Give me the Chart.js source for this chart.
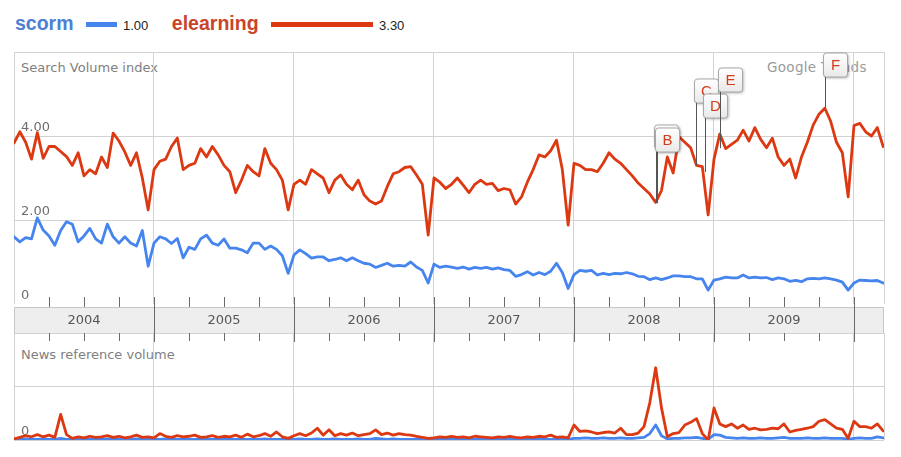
<!DOCTYPE html>
<html>
<head>
<meta charset="utf-8">
<script src="https://cdn.jsdelivr.net/npm/chart.js@4.4.1/dist/chart.umd.min.js"></script>
<style>
  html, body { margin: 0; padding: 0; background: #fff; }
  #page { position: relative; width: 901px; height: 457px; overflow: hidden; font-family: "Liberation Sans", Arial, sans-serif; }
  canvas { position: absolute; left: 0; top: 0; }
  .lbl { position: absolute; white-space: nowrap; }
  .gray { font: 13px "DejaVu Sans", sans-serif; line-height: 13px; color: #808080; }
  #legend { position: absolute; left: 15px; top: 14px; display: flex; align-items: center; height: 20px; }
  #legend .term { font-weight: bold; font-size: 19.5px; line-height: 19.5px; }
  #legend .swatch { height: 5px; margin: 0 6px 0 12.5px; }
  #legend .avg { font-size: 13px; line-height: 13px; color: #222; position: relative; top: 1px; margin-right: 23.5px; }
</style>
</head>
<body>
<div id="page">
  <div id="legend"></div>
  <div class="lbl gray" style="left:21px; top:61px">Search Volume index</div>
  <div class="lbl gray" style="left:21px; top:348px">News reference volume</div>
  <div class="lbl gray" style="left:767px; top:61px; font-size:13.5px; letter-spacing:0.3px; color:#9a9a9a">Google Trends</div>
  <canvas id="searchChart" width="901" height="457"></canvas>
  <canvas id="newsChart" width="901" height="457"></canvas>
</div>
<script>
// search terms and their averages shown in the legend
const terms = ['scorm', 'elearning'];
const termAverages = [1.00, 3.30];
const lineColors = ['#4684ee', '#dc3912'];
const textColors = ['#4d80d4', '#c9442a'];

// x axis: half-month samples starting Jan 2004
const startYear = 2004;
const samplesPerYear = 24;
const years = ['2004', '2005', '2006', '2007', '2008', '2009'];
const yearBoundaries = [2004, 2005, 2006, 2007, 2008, 2009, 2010];
const searchTicks = [0, 2, 4, 6];
const newsTicks = [0, 1, 2];

// Search Volume index
const scormSearch = [
  1.60, 1.48, 1.58, 1.55, 2.05, 1.76, 1.62, 1.40, 1.75, 1.96,
  1.90, 1.48, 1.62, 1.80, 1.55, 1.45, 1.90, 1.60, 1.45, 1.60,
  1.45, 1.38, 1.75, 0.90, 1.45, 1.60, 1.55, 1.44, 1.56, 1.10,
  1.35, 1.30, 1.55, 1.64, 1.45, 1.40, 1.55, 1.33, 1.33, 1.29,
  1.22, 1.45, 1.45, 1.30, 1.38, 1.30, 1.15, 0.73, 1.17, 1.29,
  1.20, 1.09, 1.12, 1.12, 1.03, 1.06, 1.10, 1.03, 1.10, 1.03,
  0.97, 0.95, 0.87, 0.92, 0.97, 0.90, 0.92, 0.90, 1.00, 0.88,
  0.80, 0.50, 0.95, 0.87, 0.90, 0.88, 0.85, 0.88, 0.83, 0.87,
  0.85, 0.87, 0.83, 0.86, 0.82, 0.80, 0.66, 0.70, 0.77, 0.69,
  0.75, 0.70, 0.78, 0.97, 0.75, 0.37, 0.70, 0.80, 0.78, 0.80,
  0.69, 0.73, 0.70, 0.73, 0.72, 0.75, 0.72, 0.66, 0.65, 0.58,
  0.62, 0.58, 0.62, 0.67, 0.67, 0.65, 0.65, 0.60, 0.60, 0.33,
  0.57, 0.60, 0.64, 0.62, 0.62, 0.69, 0.62, 0.64, 0.62, 0.63,
  0.58, 0.62, 0.60, 0.54, 0.56, 0.53, 0.60, 0.61, 0.60, 0.62,
  0.60, 0.57, 0.52, 0.33, 0.50, 0.57, 0.56, 0.55, 0.56, 0.50
];
const elearningSearch = [
  3.83, 4.10, 3.85, 3.45, 4.08, 3.47, 3.75, 3.75, 3.63, 3.51,
  3.30, 3.60, 3.05, 3.20, 3.10, 3.50, 3.25, 4.07, 3.88, 3.62,
  3.30, 3.60, 3.00, 2.24, 3.20, 3.40, 3.45, 3.75, 3.95, 3.20,
  3.30, 3.35, 3.70, 3.50, 3.75, 3.55, 3.30, 3.15, 2.65, 2.95,
  3.30, 3.15, 3.05, 3.70, 3.35, 3.20, 2.95, 2.24, 2.85, 2.95,
  2.85, 3.20, 3.10, 3.00, 2.65, 2.95, 3.07, 2.85, 2.72, 2.95,
  2.60, 2.45, 2.38, 2.45, 2.80, 3.10, 3.15, 3.25, 3.27, 3.07,
  2.85, 1.64, 3.00, 2.90, 2.75, 2.85, 3.00, 2.83, 2.65, 2.85,
  2.95, 2.85, 2.87, 2.70, 2.75, 2.72, 2.38, 2.55, 2.90, 3.20,
  3.55, 3.50, 3.65, 3.90, 3.20, 1.88, 3.35, 3.30, 3.20, 3.20,
  3.15, 3.35, 3.60, 3.45, 3.35, 3.20, 3.05, 2.88, 2.75, 2.62,
  2.42, 2.70, 3.50, 3.12, 3.98, 3.85, 3.72, 3.30, 3.27, 2.12,
  3.45, 4.05, 3.70, 3.80, 3.90, 4.14, 3.88, 4.20, 3.92, 3.72,
  3.95, 3.50, 3.30, 3.45, 3.00, 3.50, 3.85, 4.26, 4.52, 4.66,
  4.35, 3.85, 3.60, 2.55, 4.25, 4.30, 4.10, 4.00, 4.20, 3.75
];

// News reference volume
const scormNews = [
  0.01, 0.01, 0.02, 0.01, 0.01, 0.02, 0.01, 0.01, 0.03, 0.01,
  0.01, 0.01, 0.02, 0.01, 0.01, 0.01, 0.02, 0.01, 0.01, 0.01,
  0.01, 0.02, 0.01, 0.01, 0.01, 0.01, 0.02, 0.01, 0.01, 0.01,
  0.01, 0.01, 0.02, 0.01, 0.01, 0.01, 0.01, 0.02, 0.01, 0.01,
  0.01, 0.01, 0.01, 0.02, 0.01, 0.01, 0.01, 0.01, 0.01, 0.02,
  0.01, 0.01, 0.02, 0.01, 0.01, 0.02, 0.01, 0.01, 0.01, 0.02,
  0.01, 0.01, 0.03, 0.02, 0.01, 0.02, 0.01, 0.01, 0.01, 0.01,
  0.01, 0.01, 0.01, 0.01, 0.02, 0.01, 0.01, 0.01, 0.01, 0.01,
  0.01, 0.01, 0.02, 0.01, 0.01, 0.01, 0.01, 0.01, 0.01, 0.01,
  0.01, 0.01, 0.01, 0.01, 0.01, 0.01, 0.03, 0.03, 0.04, 0.03,
  0.03, 0.04, 0.03, 0.03, 0.04, 0.03, 0.03, 0.04, 0.05, 0.12,
  0.28, 0.08, 0.02, 0.03, 0.03, 0.04, 0.04, 0.05, 0.03, 0.01,
  0.10, 0.09, 0.05, 0.04, 0.03, 0.04, 0.03, 0.03, 0.04, 0.03,
  0.03, 0.04, 0.05, 0.03, 0.03, 0.03, 0.04, 0.03, 0.03, 0.04,
  0.03, 0.03, 0.03, 0.01, 0.03, 0.04, 0.03, 0.03, 0.06, 0.04
];
const elearningNews = [
  0.02, 0.05, 0.08, 0.06, 0.10, 0.06, 0.09, 0.05, 0.48, 0.10,
  0.03, 0.06, 0.04, 0.07, 0.05, 0.06, 0.08, 0.05, 0.07, 0.04,
  0.06, 0.09, 0.05, 0.06, 0.04, 0.12, 0.07, 0.05, 0.08, 0.06,
  0.07, 0.09, 0.05, 0.06, 0.08, 0.05, 0.07, 0.06, 0.09, 0.05,
  0.11, 0.06, 0.08, 0.12, 0.07, 0.15, 0.06, 0.03, 0.08, 0.12,
  0.08, 0.13, 0.22, 0.09, 0.19, 0.08, 0.12, 0.09, 0.13, 0.08,
  0.10, 0.12, 0.19, 0.10, 0.13, 0.09, 0.12, 0.10, 0.09, 0.07,
  0.05, 0.03, 0.04, 0.06, 0.05, 0.07, 0.05, 0.06, 0.04, 0.07,
  0.06, 0.05, 0.04, 0.06, 0.05, 0.07, 0.05, 0.04, 0.06, 0.05,
  0.07, 0.06, 0.09, 0.05, 0.06, 0.04, 0.28, 0.16, 0.17, 0.15,
  0.12, 0.14, 0.15, 0.13, 0.22, 0.10, 0.10, 0.13, 0.25, 0.70,
  1.35, 0.60, 0.06, 0.12, 0.14, 0.28, 0.33, 0.40, 0.12, 0.00,
  0.60, 0.30, 0.25, 0.30, 0.22, 0.28, 0.20, 0.22, 0.19, 0.20,
  0.22, 0.21, 0.30, 0.15, 0.18, 0.20, 0.22, 0.25, 0.35, 0.38,
  0.30, 0.22, 0.20, 0.03, 0.35, 0.25, 0.25, 0.22, 0.30, 0.17
];

// news headline markers on the elearning line
const eventLetters = ['A', 'B', 'C', 'D', 'E', 'F'];
const eventDates = [2008.586, 2008.593, 2008.871, 2008.936, 2009.043, 2009.793];
const eventValues = [2.41, 2.40, 3.31, 3.14, 3.71, 4.67];
const eventLift = [54, 51, 62, 54, 56, 31]; // px between point and marker box

const X_MAX = 2004 + 870 / 140;
const GRID = '#d2d2d2';
const TICK = '#6a6a6a';

// ---- legend ----
const legend = document.getElementById('legend');
terms.forEach((t, i) => {
    const name = document.createElement('span');
    name.className = 'term';
    name.style.color = textColors[i];
    name.textContent = t;
    const sw = document.createElement('span');
    sw.className = 'swatch';
    sw.style.background = lineColors[i];
    sw.style.width = Math.round(31 * termAverages[i]) + 'px';
    const avg = document.createElement('span');
    avg.className = 'avg';
    avg.textContent = termAverages[i].toFixed(2);
    legend.append(name, sw, avg);
});

const xs = scormSearch.map((_, i) => startYear + i / samplesPerYear);
const toPoints = arr => arr.map((v, i) => ({ x: xs[i], y: v }));

function quarterValues() {
    const out = [];
    yearBoundaries.forEach(y => [0.25, 0.5, 0.75].forEach(q => {
        if (y + q < X_MAX) out.push(y + q);
    }));
    return out;
}

function vline(ctx, px, y0, y1) {
    ctx.beginPath();
    ctx.moveTo(px, y0);
    ctx.lineTo(px, y1);
    ctx.stroke();
}

function xScale() {
    return {
        type: 'linear', min: startYear, max: X_MAX,
        afterBuildTicks: s => { s.ticks = [...yearBoundaries, X_MAX].map(v => ({ value: v })); },
        afterFit: s => { s.height = 0; },
        ticks: { display: false },
        grid: { color: GRID, drawTicks: false },
        border: { display: false }
    };
}

function lineSet(label, arr, color) {
    return {
        label, data: toPoints(arr), borderColor: color, borderWidth: 2.8,
        pointRadius: 0, tension: 0, borderJoinStyle: 'round', borderCapStyle: 'round'
    };
}

const bandDecor = {
    id: 'bandDecor',
    afterDraw(chart) {
        const { ctx, chartArea: a, scales: { x } } = chart;
        const top = a.bottom + 3, bottom = top + 26;
        ctx.save();
        ctx.fillStyle = '#eeeeee';
        ctx.fillRect(a.left, top, a.right - a.left, bottom - top);
        ctx.strokeStyle = '#c8c8c8';
        ctx.lineWidth = 1;
        ctx.strokeRect(a.left + 0.5, top + 0.5, a.right - a.left - 1, bottom - top);

        ctx.fillStyle = '#555';
        ctx.font = '13px "DejaVu Sans"';
        ctx.textAlign = 'center';
        ctx.textBaseline = 'middle';
        years.forEach(yr => {
            const x0 = x.getPixelForValue(+yr), x1 = x.getPixelForValue(+yr + 1);
            ctx.fillText(yr, (x0 + x1) / 2, (top + bottom) / 2 + 1);
        });

        ctx.strokeStyle = TICK;
        yearBoundaries.slice(1).forEach(v => {
            vline(ctx, Math.round(x.getPixelForValue(v)) + 0.5, a.bottom - 7, bottom);
        });
        quarterValues().forEach(v => {
            vline(ctx, Math.round(x.getPixelForValue(v)) + 0.5, a.bottom - 7, top);
        });
        ctx.restore();
    },
    afterDatasetsDraw(chart) {
        const { ctx, scales: { x, y } } = chart;
        ctx.save();
        eventLetters.forEach((letter, i) => {
            const px = Math.round(x.getPixelForValue(eventDates[i])) + 0.5;
            const py = y.getPixelForValue(eventValues[i]);
            const boxBottom = Math.round(py - eventLift[i]);
            ctx.strokeStyle = '#555';
            ctx.lineWidth = 1;
            vline(ctx, px, py, boxBottom);

            const bx = px - 2, by = boxBottom - 24;
            ctx.save();
            ctx.shadowColor = 'rgba(0,0,0,0.35)';
            ctx.shadowBlur = 3;
            ctx.shadowOffsetX = 1;
            ctx.shadowOffsetY = 1;
            const g = ctx.createLinearGradient(0, by, 0, by + 24);
            g.addColorStop(0, '#ffffff');
            g.addColorStop(1, '#e9e9e9');
            ctx.fillStyle = g;
            ctx.beginPath();
            ctx.roundRect(bx, by, 24, 24, 3);
            ctx.fill();
            ctx.restore();
            ctx.strokeStyle = '#a8a8a8';
            ctx.beginPath();
            ctx.roundRect(bx, by, 24, 24, 3);
            ctx.stroke();

            ctx.fillStyle = '#d63a17';
            ctx.font = '15px "Liberation Sans"';
            ctx.textAlign = 'center';
            ctx.textBaseline = 'middle';
            ctx.fillText(letter, bx + 12, by + 13);
        });
        ctx.restore();
    }
};

const newsDecor = {
    id: 'newsDecor',
    afterDraw(chart) {
        const { ctx, chartArea: a, scales: { x } } = chart;
        ctx.save();
        ctx.strokeStyle = TICK;
        ctx.lineWidth = 1;
        yearBoundaries.slice(1).forEach(v => {
            vline(ctx, Math.round(x.getPixelForValue(v)) + 0.5, a.top, a.top + 9);
        });
        quarterValues().forEach(v => {
            vline(ctx, Math.round(x.getPixelForValue(v)) + 0.5, a.top, a.top + 8);
        });
        ctx.restore();
    }
};

const commonOpts = {
    responsive: false,
    animation: false,
    events: [],
    plugins: { legend: { display: false }, tooltip: { enabled: false } }
};

new Chart(document.getElementById('searchChart'), {
    type: 'line',
    data: {
        datasets: [
            lineSet(terms[0], scormSearch, lineColors[0]),
            lineSet(terms[1], elearningSearch, lineColors[1])
        ]
    },
    options: {
        ...commonOpts,
        layout: { padding: { left: 14, top: 52, right: 17, bottom: 153 } },
        scales: {
            x: xScale(),
            y: {
                min: 0, max: 6,
                afterBuildTicks: s => { s.ticks = searchTicks.map(v => ({ value: v })); },
                afterFit: s => { s.width = 0; },
                ticks: {
                    mirror: true, padding: 7, labelOffset: -8, color: '#6e6e6e',
                    font: { family: 'DejaVu Sans', size: 13 },
                    callback: v => v === 0 ? '0' : (v === 6 ? '' : v.toFixed(2))
                },
                grid: { color: c => c.tick.value === 0 ? 'rgba(0,0,0,0)' : GRID, drawTicks: false },
                border: { display: false }
            }
        }
    },
    plugins: [bandDecor]
});

new Chart(document.getElementById('newsChart'), {
    type: 'line',
    data: {
        datasets: [
            lineSet(terms[1], elearningNews, lineColors[1]),
            lineSet(terms[0], scormNews, lineColors[0])
        ]
    },
    options: {
        ...commonOpts,
        layout: { padding: { left: 14, top: 333, right: 17, bottom: 17 } },
        scales: {
            x: xScale(),
            y: {
                min: 0, max: 2,
                afterBuildTicks: s => { s.ticks = newsTicks.map(v => ({ value: v })); },
                afterFit: s => { s.width = 0; },
                ticks: {
                    mirror: true, padding: 7, labelOffset: -8, color: '#6e6e6e',
                    font: { family: 'DejaVu Sans', size: 13 },
                    callback: v => v === 0 ? '0' : ''
                },
                grid: { color: GRID, drawTicks: false },
                border: { display: false }
            }
        }
    },
    plugins: [newsDecor]
});
</script>
</body>
</html>
